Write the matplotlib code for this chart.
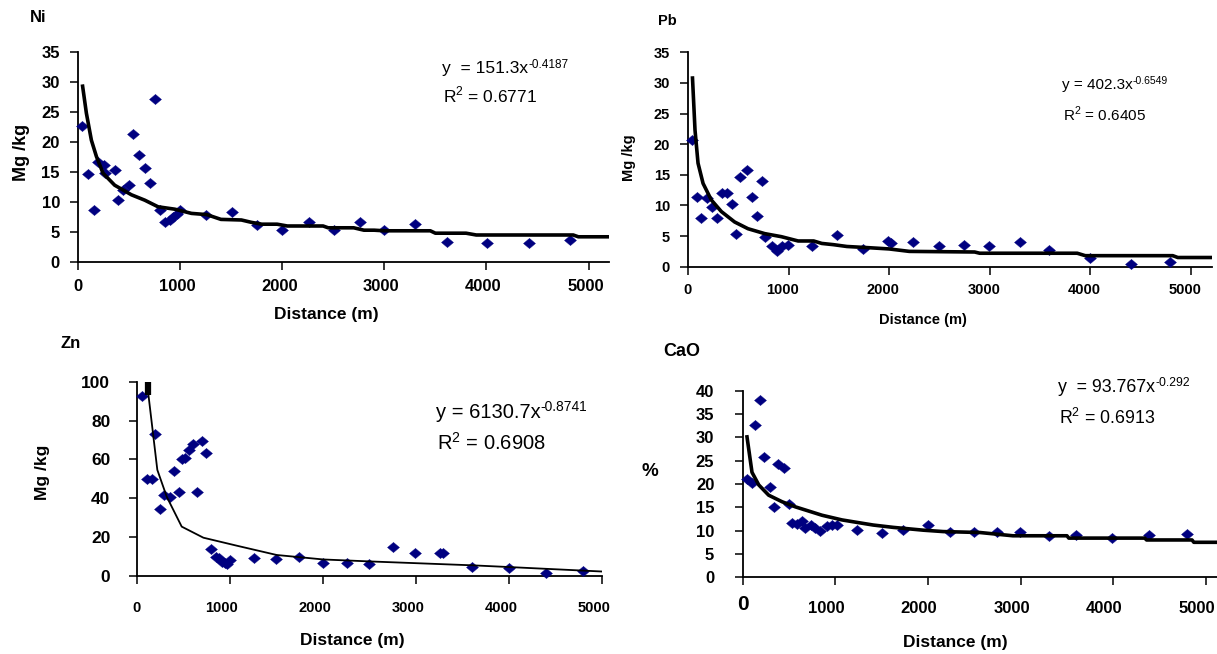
import matplotlib
matplotlib.use("Agg")
import matplotlib.pyplot as plt
from matplotlib.path import Path
from matplotlib.transforms import ScaledTranslation

plt.rcParams['font.family'] = ['Liberation Sans', 'DejaVu Sans']

# ---- data ----
ni_dist = [40, 100, 160, 200, 250, 265, 360, 395, 445, 495, 540, 600, 655, 705, 755, 800,
           855, 900, 935, 965, 1000, 1250, 1505, 1750, 2000, 2260, 2510, 2765, 3000, 3300,
           3615, 4005, 4420, 4815]
ni_conc = [22.6, 14.7, 8.7, 16.6, 16.2, 14.9, 15.3, 10.3, 12.0, 12.8, 21.3, 17.8, 15.6, 13.1,
           27.2, 8.7, 6.7, 7.0, 7.5, 8.0, 8.7, 7.8, 8.4, 6.2, 5.4, 6.6, 5.4, 6.6, 5.3, 6.4,
           3.3, 3.1, 3.1, 3.6]
ni_fit_x = [45, 82, 131, 180, 245, 359, 523, 654, 784, 948, 1111, 1260, 1400, 1600, 1700, 1800,
            1950, 2050, 2400, 2450, 2700, 2800, 2900, 3000, 3450, 3500, 3800, 3900, 4850,
            4900, 5200]
ni_fit_y = [29.3, 24.8, 20.3, 17.6, 14.8, 12.8, 11.2, 10.3, 9.2, 8.8, 8.1, 7.9, 7.1, 7.0, 6.6,
            6.3, 6.3, 6.0, 6.0, 5.7, 5.7, 5.3, 5.3, 5.2, 5.2, 4.8, 4.8, 4.5, 4.5, 4.2, 4.2]

pb_dist = [40, 90, 130, 185, 235, 285, 335, 385, 435, 480, 520, 585, 640, 685, 740, 765, 835,
           885, 930, 990, 1230, 1485, 1745, 1985, 2020, 2240, 2500, 2740, 2990, 3305, 3590,
           3995, 4400, 4790]
pb_conc = [20.7, 11.4, 7.9, 11.2, 9.8, 7.9, 12.0, 12.0, 10.3, 5.3, 14.7, 15.8, 11.4, 8.3, 14.0,
           4.8, 3.4, 2.6, 3.4, 3.6, 3.3, 5.2, 2.9, 4.2, 3.9, 4.1, 3.3, 3.6, 3.3, 4.1, 2.8,
           1.4, 0.4, 0.7]
pb_fit_x = [45, 70, 100, 150, 232, 332, 464, 597, 763, 929, 1095, 1250, 1330, 1445, 1580,
            1800, 2000, 2200, 2850, 2900, 3870, 3950, 4820, 4870, 5210]
pb_fit_y = [30.8, 22.3, 16.9, 13.6, 10.9, 9.0, 7.3, 6.2, 5.4, 4.9, 4.2, 4.2, 3.8, 3.6, 3.3,
            3.1, 2.9, 2.5, 2.4, 2.2, 2.2, 1.8, 1.8, 1.5, 1.5]

zn_dist = [56, 108, 161, 199, 251, 294, 358, 401, 459, 484, 520, 566, 602, 645, 699, 746, 796,
           853, 889, 914, 950, 968, 1004, 1261, 1498, 1745, 2000, 2258, 2501, 2753, 2992, 3265,
           3295, 3602, 3996, 4398, 4792]
zn_conc = [92.6, 49.8, 49.8, 73.3, 34.3, 41.7, 40.5, 54.0, 43.1, 60.0, 60.5, 64.8, 67.9, 43.1,
           69.5, 63.4, 13.7, 10.0, 9.1, 7.4, 6.5, 6.0, 8.2, 9.1, 8.6, 10.0, 6.9, 6.9, 6.0, 14.8,
           12.0, 12.0, 12.0, 4.8, 4.3, 1.7, 2.7]
zn_fit_x = [127, 127, 222, 323, 484, 717, 1075, 1505, 2005, 2500, 3600, 4000, 5000]
zn_fit_y = [101, 93, 54.6, 40.8, 25.4, 19.7, 15.6, 10.8, 8.5, 7.5, 5.5, 4.6, 2.3]

cao_dist = [46, 100, 136, 190, 226, 298, 334, 381, 442, 503, 528, 582, 643, 672, 733,
            780, 834, 906, 960, 1014, 1230, 1500, 1733, 2002, 2236, 2495, 2747, 2991, 3304,
            3595, 3991, 4386, 4796]
cao_conc = [21.0, 20.3, 32.6, 38.1, 25.8, 19.4, 15.1, 24.3, 23.4, 15.7, 11.7, 11.4,
            12.1, 10.5, 11.2, 10.5, 10.0, 10.9, 11.2, 11.2, 10.1, 9.6, 10.1, 11.2, 9.8, 9.8,
            9.8, 9.8, 8.9, 9.1, 8.4, 9.1, 9.3]
cao_fit_x = [46, 100, 173, 280, 424, 568, 712, 856, 1071, 1193, 1409, 1625, 1948, 2164, 2560,
             2916, 3500, 3520, 4340, 4360, 4850, 4870, 5150]
cao_fit_y = [30.1, 22.5, 19.8, 17.6, 16.2, 15.1, 14.2, 13.3, 12.3, 11.9, 11.2, 10.7, 10.1, 9.8,
             9.6, 8.9, 8.9, 8.4, 8.4, 8.0, 8.0, 7.5, 7.5]

xticks = [0, 1000, 2000, 3000, 4000, 5000]
navy = '#000080'
W, H = 1217, 654

# diamond a little wider than tall, like the Excel markers
diamond = Path([(-1, 0), (0, 0.85), (1, 0), (0, -0.85), (-1, 0)],
               [Path.MOVETO, Path.LINETO, Path.LINETO, Path.LINETO, Path.CLOSEPOLY])

fig = plt.figure(figsize=(W / 100, H / 100), dpi=100)


def px(x, y):
    return x / W, 1 - y / H


def style(ax, xmax, ymax, ystep, xsize, ysize, xpad, ypad, xshift):
    ax.set_xlim(0, xmax)
    ax.set_ylim(0, ymax)
    ax.set_xticks(xticks)
    ax.set_yticks(range(0, ymax + 1, ystep))
    for s in ['top', 'right']:
        ax.spines[s].set_visible(False)
    for s in ['left', 'bottom']:
        ax.spines[s].set_linewidth(1.3)
    ax.tick_params(axis='both', direction='out', length=6, width=1.1)
    ax.tick_params(axis='x', pad=xpad, labelsize=xsize)
    ax.tick_params(axis='y', pad=ypad, labelsize=ysize)
    off = ScaledTranslation(xshift / 100, 0, fig.dpi_scale_trans)
    for i, lab in enumerate(ax.get_xticklabels()):
        lab.set_fontweight('bold')
        if i > 0:
            lab.set_transform(lab.get_transform() + off)
    for lab in ax.get_yticklabels():
        lab.set_fontweight('bold')
    ax.patch.set_alpha(0)


def scatter(ax, x, y):
    ax.plot(x, y, linestyle='none', marker=diamond, markersize=8.6, color=navy,
            markeredgecolor=navy, markeredgewidth=0.3, clip_on=False, zorder=3)


def equation(x, y, base, expo, r2, size, gap):
    t = fig.text(*px(x, y), base, fontsize=size, va='center', ha='left')
    plt.annotate(expo, xy=(1.0, 0.78), xycoords=t, fontsize=size * 0.68,
                 va='center', ha='left')
    fig.text(*px(x + 1, y + gap), r'R$^{\mathregular{2}}$ = ' + r2, fontsize=size,
             va='center', ha='left')


# Ni
ax1 = fig.add_axes([0.0641, 0.5994, 0.4363, 0.3211])
scatter(ax1, ni_dist, ni_conc)
ax1.plot(ni_fit_x, ni_fit_y, color='black', lw=2.6, zorder=4)
style(ax1, 5200, 35, 5, 12, 12, 6, 7, -3)
fig.text(*px(30, 18), 'Ni', fontsize=12, fontweight='bold', va='center', ha='left')
fig.text(*px(21, 152), 'Mg /kg', fontsize=13, fontweight='bold', rotation=90,
         va='center', ha='center')
fig.text(*px(326, 315), 'Distance (m)', fontsize=12.5, fontweight='bold',
         va='center', ha='center')
equation(442, 69, 'y  = 151.3x', '-0.4187', '0.6771', 12.5, 26)

# Pb
ax2 = fig.add_axes([0.5653, 0.5922, 0.4306, 0.3278])
scatter(ax2, pb_dist, pb_conc)
ax2.plot(pb_fit_x, pb_fit_y, color='black', lw=2.6, zorder=4)
style(ax2, 5210, 35, 5, 10.5, 10.5, 5.5, 7, -6)
fig.text(*px(667, 21), 'Pb', fontsize=10.5, fontweight='bold', va='center', ha='center')
fig.text(*px(629, 158), 'Mg /kg', fontsize=10.5, fontweight='bold', rotation=90,
         va='center', ha='center')
fig.text(*px(923, 320), 'Distance (m)', fontsize=10.5, fontweight='bold',
         va='center', ha='center')
equation(1062, 85, 'y = 402.3x', '-0.6549', '0.6405', 11, 29)

# Zn
ax3 = fig.add_axes([0.1123, 0.1193, 0.3823, 0.2971])
scatter(ax3, zn_dist, zn_conc)
ax3.plot(zn_fit_x[:2], zn_fit_y[:2], color='black', lw=4.5, zorder=4, solid_capstyle='butt')
ax3.plot(zn_fit_x[1:], zn_fit_y[1:], color='black', lw=1.3, zorder=4)
style(ax3, 5000, 100, 20, 10.5, 12.5, 12, 13, -8)
fig.text(*px(71, 343), 'Zn', fontsize=12, fontweight='bold', va='center', ha='center')
fig.text(*px(42, 472), 'Mg /kg', fontsize=12.5, fontweight='bold', rotation=90,
         va='center', ha='center')
fig.text(*px(352, 640), 'Distance (m)', fontsize=12.5, fontweight='bold',
         va='center', ha='center')
equation(436, 412, 'y = 6130.7x', '-0.8741', '0.6908', 14.5, 31)

# CaO
ax4 = fig.add_axes([0.6103, 0.1173, 0.3897, 0.2853])
scatter(ax4, cao_dist, cao_conc)
ax4.plot(cao_fit_x, cao_fit_y, color='black', lw=2.6, zorder=4)
style(ax4, 5120, 40, 5, 12, 12, 11, 14.5, -9)
zero = ax4.get_xticklabels()[0]
zero.set_fontsize(15)
zero.set_transform(zero.get_transform() + ScaledTranslation(0, 0.06, fig.dpi_scale_trans))
fig.text(*px(682, 351), 'CaO', fontsize=13, fontweight='bold', va='center', ha='center')
fig.text(*px(650, 472), '%', fontsize=13.5, fontweight='bold', va='center', ha='center')
fig.text(*px(955, 643), 'Distance (m)', fontsize=12.5, fontweight='bold',
         va='center', ha='center')
equation(1058, 388, 'y  = 93.767x', '-0.292', '0.6913', 12.8, 30)

fig.savefig('out.png', dpi=100)
